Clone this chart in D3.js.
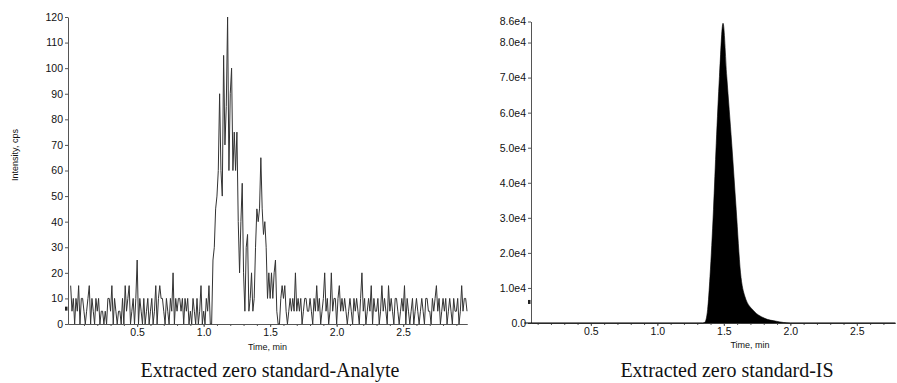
<!DOCTYPE html>
<html>
<head>
<meta charset="utf-8">
<script src="https://cdn.jsdelivr.net/npm/d3@7"></script>
<style>
  body { margin: 0; background: #fff; }
  svg text { font-family: "Liberation Sans", Arial, sans-serif; fill: #111; }
  .caption { font-family: "Liberation Serif", "Times New Roman", serif; }
</style>
</head>
<body>
<svg id="chart" width="897" height="383"></svg>
<script>
// analyte trace, one reading every 0.01 min starting at 0.00 min (cps)
const analyteStart = 0.0;
const analyteStep = 0.01;
const analyteIntensity = [
  15, 5, 10, 0, 10, 5, 15, 0, 10, 10,
  5, 0, 5, 10, 15, 0, 10, 5, 0, 10,
  5, 10, 0, 5, 5, 0, 5, 0, 10, 10,
  5, 15, 0, 10, 5, 0, 5, 5, 0, 10,
  0, 15, 5, 10, 15, 0, 5, 10, 0, 10,
  25, 0, 10, 5, 0, 10, 0, 5, 10, 0,
  5, 10, 0, 5, 15, 0, 10, 15, 10, 10,
  5, 0, 10, 5, 0, 10, 5, 20, 0, 10,
  5, 10, 10, 5, 10, 0, 10, 5, 10, 0,
  5, 0, 10, 5, 0, 10, 0, 5, 15, 0,
  5, 0, 10, 5, 15, 0, 0, 25, 30, 45,
  50, 60, 90, 60, 50, 105, 70, 85, 120, 60,
  90, 100, 60, 75, 60, 75, 40, 20, 40, 55,
  20, 5, 30, 35, 5, 10, 20, 5, 10, 30,
  45, 40, 45, 65, 45, 35, 40, 30, 10, 20,
  10, 20, 10, 20, 25, 5, 0, 0, 10, 15,
  10, 15, 5, 0, 5, 10, 5, 10, 5, 20,
  5, 10, 5, 10, 0, 5, 10, 10, 5, 5,
  10, 5, 0, 10, 5, 15, 5, 10, 0, 5,
  10, 20, 5, 10, 0, 5, 20, 5, 10, 10,
  0, 10, 15, 5, 10, 5, 10, 5, 0, 5,
  10, 5, 0, 10, 5, 10, 5, 0, 10, 20,
  5, 10, 0, 5, 10, 5, 15, 0, 10, 5,
  5, 10, 0, 5, 15, 5, 10, 5, 0, 15,
  5, 10, 5, 0, 10, 10, 5, 0, 5, 10,
  5, 15, 0, 10, 5, 0, 5, 10, 0, 5,
  10, 5, 0, 5, 10, 5, 0, 10, 10, 5,
  5, 0, 10, 5, 10, 15, 5, 10, 0, 5,
  10, 5, 10, 0, 5, 10, 5, 0, 10, 5,
  5, 10, 0, 5, 15, 5, 10, 10, 5
];

// internal standard peak (min, cps)
const isTimes = [0, 1.34, 1.357, 1.378, 1.396, 1.422, 1.443, 1.467, 1.494, 1.522, 1.559, 1.593, 1.625, 1.659, 1.724, 1.803, 1.895, 2.0, 2.79];
const isIntensity = [0, 0, 200, 3800, 13300, 32300, 51300, 70300, 85500, 70300, 51300, 32300, 14500, 7500, 3500, 1400, 500, 0, 0];

const timeTicks = [0.5, 1.0, 1.5, 2.0, 2.5];
const analyteYTicks = [0, 10, 20, 30, 40, 50, 60, 70, 80, 90, 100, 110, 120];
const isYTicks = [0, 10000, 20000, 30000, 40000, 50000, 60000, 70000, 80000, 86000];
const isYLabels = ["0.0", "1.0e4", "2.0e4", "3.0e4", "4.0e4", "5.0e4", "6.0e4", "7.0e4", "8.0e4", "8.6e4"];
const markerLevels = [6, 6000];
const captions = ["Extracted zero standard-Analyte", "Extracted zero standard-IS"];

const svg = d3.select("#chart");

function drawAxes(g, x, y, yTicks, yFormat, minorX) {
    g.append("g")
        .attr("transform", "translate(0," + y.range()[0] + ")")
        .call(d3.axisBottom(x).tickValues(minorX).tickSize(2).tickSizeOuter(0).tickFormat(""))
        .call(a => a.selectAll("line,path").attr("stroke", "#555"));

    g.append("g")
        .attr("transform", "translate(0," + y.range()[0] + ")")
        .call(d3.axisBottom(x).tickValues(timeTicks).tickSize(3).tickPadding(2).tickSizeOuter(0).tickFormat(d3.format(".1f")))
        .call(a => a.select(".domain").attr("stroke", "#555"))
        .call(a => a.selectAll("line").attr("stroke", "#555"))
        .call(a => a.selectAll("text").attr("font-size", 10.5).attr("fill", "#111"));

    g.append("g")
        .attr("transform", "translate(" + x.range()[0] + ",0)")
        .call(d3.axisLeft(y).tickValues(yTicks).tickSize(3).tickPadding(2).tickSizeOuter(0).tickFormat(yFormat))
        .call(a => a.select(".domain").attr("stroke", "#555"))
        .call(a => a.selectAll("line").attr("stroke", "#555"))
        .call(a => a.selectAll("text").attr("font-size", 10.5).attr("fill", "#111"));
}

// ---- left: analyte ----
let xA = d3.scaleLinear().domain([-0.02, 2.98]).range([68, 467]);
let yA = d3.scaleLinear().domain([0, 120]).range([324, 17]);
const left = svg.append("g");

drawAxes(left, xA, yA, analyteYTicks, d3.format("d"), d3.range(0.1, 2.95, 0.1));

let line = d3.line()
    .x((d, i) => xA(analyteStart + i * analyteStep))
    .y(d => yA(d));

left.append("path")
    .datum(analyteIntensity)
    .attr("fill", "none")
    .attr("stroke", "#333")
    .attr("stroke-width", 1)
    .attr("stroke-linejoin", "miter")
    .attr("d", line);

left.append("rect")
    .attr("x", xA.range()[0] - 3).attr("y", yA(markerLevels[0]) - 2)
    .attr("width", 2.5).attr("height", 4).attr("fill", "#222");

left.append("text")
    .attr("transform", "translate(18," + 155 + ") rotate(-90)")
    .attr("text-anchor", "middle")
    .attr("font-size", 9)
    .text("Intensity, cps");

left.append("text")
    .attr("x", (xA.range()[0] + xA.range()[1]) / 2)
    .attr("y", 350)
    .attr("text-anchor", "middle")
    .attr("font-size", 9)
    .text("Time, min");

// ---- right: internal standard ----
let xI = d3.scaleLinear().domain([0.05, 2.787]).range([531, 895]);
let yI = d3.scaleLinear().domain([0, 86000]).range([323, 21.5]);
const right = svg.append("g");

drawAxes(right, xI, yI, isYTicks, (d, i) => isYLabels[i], d3.range(0.1, 2.75, 0.1));

let area = d3.area()
    .x((d, i) => xI(isTimes[i]))
    .y0(yI(0))
    .y1(d => yI(d))
    .curve(d3.curveMonotoneX);

right.append("path")
    .datum(isIntensity)
    .attr("fill", "#000")
    .attr("stroke", "#000")
    .attr("stroke-width", 0.6)
    .attr("d", area);

right.append("rect")
    .attr("x", xI.range()[0] - 3).attr("y", yI(markerLevels[1]) - 2)
    .attr("width", 2.5).attr("height", 4).attr("fill", "#222");

right.append("text")
    .attr("x", 750)
    .attr("y", 348)
    .attr("text-anchor", "middle")
    .attr("font-size", 9)
    .text("Time, min");

// captions under each panel
svg.selectAll(".caption")
    .data(captions)
    .enter()
    .append("text")
    .attr("class", "caption")
    .attr("x", (d, i) => i == 0 ? 270 : 727)
    .attr("y", 377)
    .attr("text-anchor", "middle")
    .attr("font-size", 20)
    .text(d => d);
</script>
</body>
</html>
